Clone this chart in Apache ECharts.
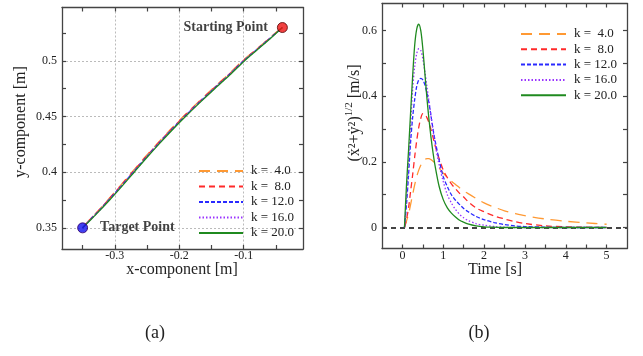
<!DOCTYPE html>
<html><head><meta charset="utf-8">
<script src="https://cdn.jsdelivr.net/npm/echarts@6/dist/echarts.min.js"></script>
<style>html,body{margin:0;padding:0;background:#fff}#c{width:643px;height:356px}</style>
</head><body><div id="c"></div>
<script>
// ---------- data ----------
const kNames = ['k =  4.0', 'k =  8.0', 'k = 12.0', 'k = 16.0', 'k = 20.0'];

// (a) end-point trajectories
const trajY   = [0.350,0.3575,0.365,0.375,0.3875,0.400,0.4125,0.425,0.4375,0.450,0.4625,0.475,0.4875,0.500,0.510,0.520,0.530];
const trajX4  = [-0.350,-0.339,-0.3265,-0.311,-0.2922,-0.2735,-0.2548,-0.2354,-0.2152,-0.1939,-0.1716,-0.1485,-0.1246,-0.1022,-0.0815,-0.061,-0.041];
const trajX8  = [-0.350,-0.3385,-0.326,-0.3103,-0.2913,-0.2725,-0.2538,-0.2344,-0.2142,-0.1929,-0.1706,-0.1475,-0.1236,-0.1012,-0.0808,-0.0605,-0.040];
const trajX12 = [-0.350,-0.338,-0.3253,-0.3095,-0.2903,-0.2715,-0.2528,-0.2334,-0.2132,-0.1919,-0.1696,-0.1465,-0.1228,-0.1004,-0.0802,-0.0600,-0.040];
const trajX16 = [-0.350,-0.3375,-0.325,-0.309,-0.2898,-0.271,-0.2523,-0.2329,-0.2127,-0.1914,-0.1691,-0.1460,-0.1223,-0.1,-0.0798,-0.0597,-0.040];
const trajX20 = [-0.350,-0.337,-0.3243,-0.3081,-0.2888,-0.270,-0.2513,-0.2319,-0.2117,-0.1904,-0.1681,-0.1450,-0.1213,-0.099,-0.079,-0.059,-0.040];
const startPoint  = [-0.040, 0.530];
const targetPoint = [-0.350, 0.350];

// (b) speed profiles
const time    = [0.05,0.1,0.15,0.2,0.25,0.3,0.35,0.4,0.45,0.5,0.55,0.6,0.65,0.7,0.75,0.8,0.9,1.0,1.1,1.2,1.3,1.4,1.5,1.6,1.8,2.0,2.25,2.5,2.75,3.0,3.5,4.0,4.5,5.0];
const speed4  = [0,0.02,0.04,0.07,0.1,0.13,0.155,0.175,0.19,0.2,0.207,0.21,0.21,0.207,0.202,0.196,0.181,0.166,0.153,0.141,0.131,0.121,0.112,0.104,0.089,0.075,0.062,0.051,0.043,0.036,0.026,0.019,0.014,0.01];
const speed8  = [0,0.025,0.06,0.11,0.16,0.215,0.265,0.305,0.333,0.347,0.345,0.335,0.32,0.298,0.275,0.25,0.21,0.175,0.152,0.133,0.118,0.104,0.093,0.08,0.06,0.048,0.035,0.026,0.018,0.012,0.005,0.002,0.001,0];
const speed12 = [0,0.07,0.16,0.26,0.335,0.39,0.43,0.45,0.455,0.45,0.435,0.41,0.38,0.34,0.30,0.265,0.205,0.155,0.125,0.10,0.083,0.07,0.058,0.049,0.034,0.024,0.015,0.009,0.005,0.003,0.001,0,0,0];
const speed16 = [0,0.09,0.2,0.31,0.42,0.49,0.53,0.545,0.54,0.515,0.475,0.43,0.385,0.34,0.295,0.255,0.19,0.14,0.10,0.075,0.055,0.04,0.03,0.022,0.012,0.007,0.003,0.001,0,0,0,0,0,0];
const speed20 = [0,0.13,0.235,0.35,0.46,0.555,0.605,0.62,0.60,0.545,0.47,0.395,0.33,0.275,0.228,0.188,0.125,0.085,0.06,0.044,0.032,0.022,0.016,0.011,0.005,0.002,0.001,0,0,0,0,0,0,0];

// ticks
const aXMajor = [-0.3, -0.2, -0.1];
const aXMinor = [-0.35, -0.25, -0.15, -0.05];
const aYMajor = [0.35, 0.4, 0.45, 0.5];
const aYMinor = [0.375, 0.425, 0.475, 0.525];
const bXMajor = [0, 1, 2, 3, 4, 5];
const bXMinor = [0.5, 1.5, 2.5, 3.5, 4.5];
const bYMajor = [0, 0.2, 0.4, 0.6];
const bYMinor = [0.1, 0.3, 0.5];

// ---------- styles ----------
const FONT = 'Liberation Serif, Times New Roman, serif';
const colors = ['#ff9933', '#ff2a2a', '#2a2aff', '#9933ff', '#1f8a1f'];
const dashes = [[11, 7], [6, 4], [4, 2], [1.5, 2], 'solid'];
const AXC = '#444';

const trajXs = [trajX4, trajX8, trajX12, trajX16, trajX20];
const speeds = [speed4, speed8, speed12, speed16, speed20];

function mkAxis(kind, grid, pos, min, max, majors, minors, opts) {
  const a = {
    type: 'value', gridIndex: grid, position: pos, min: min, max: max,
    axisLine: { show: true, onZero: false, lineStyle: { color: AXC, width: 1.3 } },
    axisTick: { show: true, inside: true, length: 4, customValues: majors.concat(minors), lineStyle: { color: AXC, width: 1.2 } },
    axisLabel: { show: false },
    splitLine: { show: false }
  };
  return Object.assign(a, opts || {});
}
const labelStyle = (margin) => ({ show: true, margin: margin, color: '#222', fontSize: 12, fontFamily: FONT });

const xAxes = [
  // (a)
  mkAxis('x', 0, 'bottom', -0.382, -0.008, aXMajor, aXMinor, { axisLabel: Object.assign(labelStyle(1), { customValues: aXMajor }) }),
  mkAxis('x', 0, 'top', -0.382, -0.008, aXMajor, aXMinor),
  { type: 'value', gridIndex: 0, position: 'bottom', min: -0.382, max: -0.008, axisLine: { show: false }, axisLabel: { show: false },
    axisTick: { show: false, customValues: aXMajor }, splitLine: { show: true, lineStyle: { color: '#bbb', type: [2, 2], width: 1 } } },
  // (b)
  mkAxis('x', 1, 'bottom', -0.5, 5.5, bXMajor, bXMinor, { axisLabel: Object.assign(labelStyle(1), { customValues: bXMajor }) }),
  mkAxis('x', 1, 'top', -0.5, 5.5, bXMajor, bXMinor)
];
const yAxes = [
  mkAxis('y', 0, 'left', 0.331, 0.548, aYMajor, aYMinor, { axisLabel: Object.assign(labelStyle(5), { customValues: aYMajor }) }),
  mkAxis('y', 0, 'right', 0.331, 0.548, aYMajor, aYMinor),
  { type: 'value', gridIndex: 0, position: 'left', min: 0.331, max: 0.548, axisLine: { show: false }, axisLabel: { show: false },
    axisTick: { show: false, customValues: aYMajor }, splitLine: { show: true, lineStyle: { color: '#bbb', type: [2, 2], width: 1 } } },
  mkAxis('y', 1, 'left', -0.064, 0.683, bYMajor, bYMinor, { axisLabel: Object.assign(labelStyle(5), { customValues: bYMajor }) }),
  mkAxis('y', 1, 'right', -0.064, 0.683, bYMajor, bYMinor)
];

const series = [];
kNames.forEach((name, i) => {
  series.push({
    name: name, type: 'line', xAxisIndex: 0, yAxisIndex: 0, symbol: 'none', smooth: 0.3,
    lineStyle: { color: colors[i], width: 1.3, type: dashes[i] }, itemStyle: { color: colors[i] },
    data: trajY.map((y, j) => [trajXs[i][j], y]), z: 2 + i
  });
});
kNames.forEach((name, i) => {
  series.push({
    name: name, type: 'line', xAxisIndex: 3, yAxisIndex: 3, symbol: 'none', smooth: 0.3,
    lineStyle: { color: colors[i], width: 1.3, type: dashes[i] }, itemStyle: { color: colors[i] },
    data: time.map((t, j) => [t, speeds[i][j]]), z: 2 + i
  });
});
// zero reference line in (b)
series.push({
  name: 'zero', type: 'line', xAxisIndex: 3, yAxisIndex: 3, data: [], silent: true,
  markLine: { silent: true, symbol: 'none', label: { show: false },
    lineStyle: { color: '#444', type: [5, 4], width: 1.8 }, data: [{ yAxis: 0 }] }, z: 10
});
const ptLabel = { fontFamily: FONT, fontWeight: 'bold', fontSize: 14, color: '#111' };
series.push({
  name: 'start', type: 'scatter', xAxisIndex: 0, yAxisIndex: 0, symbolSize: 10, z: 20,
  itemStyle: { color: '#ee1111', borderColor: '#550000', borderWidth: 1 },
  label: Object.assign({ show: true, position: 'left', distance: 9, formatter: 'Starting Point' }, ptLabel),
  data: [startPoint]
});
series.push({
  name: 'target', type: 'scatter', xAxisIndex: 0, yAxisIndex: 0, symbolSize: 10, z: 20,
  itemStyle: { color: '#1010ee', borderColor: '#330066', borderWidth: 1 },
  label: Object.assign({ show: true, position: 'right', distance: 12, formatter: 'Target Point' }, ptLabel),
  data: [targetPoint]
});

const legendText = { fontFamily: FONT, fontSize: 13, color: '#222', lineHeight: 14, padding: [0, 0, 0, 3] };
const title = (x, y, text, rot) => ({
  type: 'text', x: x, y: y, rotation: rot || 0,
  style: { text: text, fontFamily: FONT, fontSize: 16, fill: '#222', align: 'center', verticalAlign: 'middle' }
});

const chart = echarts.init(document.getElementById('c'), null, { renderer: 'canvas' });
chart.setOption({
  animation: false,
  backgroundColor: '#fff',
  grid: [
    { left: 62, top: 7.5, width: 241, height: 241.5, outerBoundsMode: 'none' },
    { left: 382, top: 3.5, width: 245, height: 245, outerBoundsMode: 'none' }
  ],
  xAxis: xAxes,
  yAxis: yAxes,
  legend: [
    { data: kNames, orient: 'vertical', left: 193, top: 159, itemWidth: 44, itemHeight: 14, itemGap: 1.5,
      itemStyle: { opacity: 0 }, textStyle: legendText, selectedMode: false },
    { data: kNames, orient: 'vertical', left: 515, top: 22, itemWidth: 45, itemHeight: 14, itemGap: 1.3,
      itemStyle: { opacity: 0 }, textStyle: legendText, selectedMode: false }
  ],
  graphic: [
    title(182, 270, 'x-component [m]'),
    title(21, 122, 'y-component [m]', Math.PI / 2),
    title(495, 270, 'Time [s]'),
    { type: 'text', x: 354.5, y: 113, rotation: Math.PI / 2,
      style: { text: '{m|(ẋ²+ẏ²)}{s|1/2}{m| [m/s]}', align: 'center', verticalAlign: 'middle',
        rich: { m: { fontFamily: FONT, fontSize: 16, fill: '#222', lineHeight: 22 },
                s: { fontFamily: FONT, fontSize: 11, fill: '#222', lineHeight: 11, verticalAlign: 'top' } } } },
    { type: 'text', x: 155, y: 333, style: { text: '(a)', fontFamily: FONT, fontSize: 18, fill: '#222', align: 'center', verticalAlign: 'middle' } },
    { type: 'text', x: 479, y: 333, style: { text: '(b)', fontFamily: FONT, fontSize: 18, fill: '#222', align: 'center', verticalAlign: 'middle' } }
  ],
  series: series
});
</script></body></html>
